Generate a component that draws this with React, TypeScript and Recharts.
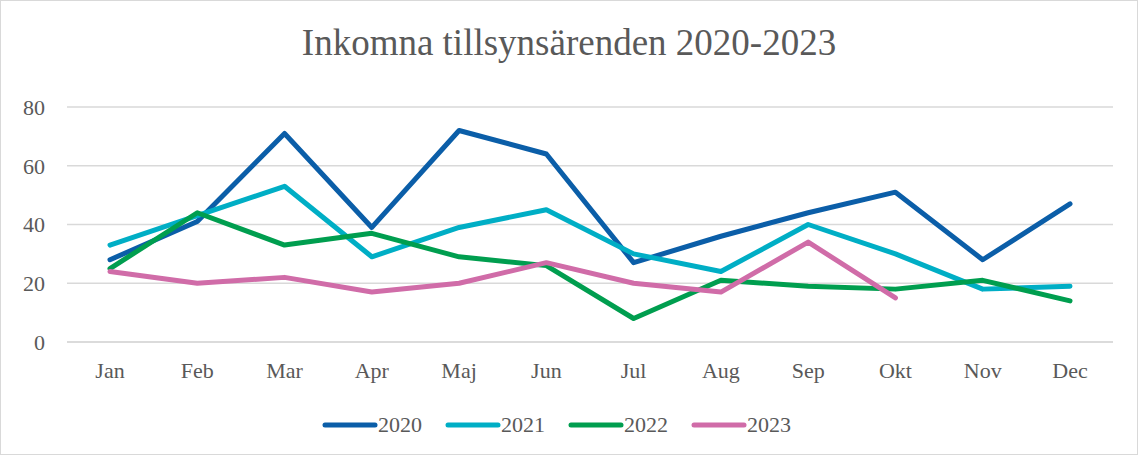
import { CartesianGrid, Line, LineChart, XAxis, YAxis } from "recharts";

const months = ["Jan", "Feb", "Mar", "Apr", "Maj", "Jun", "Jul", "Aug", "Sep", "Okt", "Nov", "Dec"];
const y2020 = [28, 41, 71, 39, 72, 64, 27, 36, 44, 51, 28, 47];
const y2021 = [33, 43, 53, 29, 39, 45, 30, 24, 40, 30, 18, 19];
const y2022 = [25, 44, 33, 37, 29, 26, 8, 21, 19, 18, 21, 14];
const y2023: (number | null)[] = [24, 20, 22, 17, 20, 27, 20, 17, 34, 15, null, null];
const yTicks = [0, 20, 40, 60, 80];

const series = [
  { key: "2020", color: "#0B5EA8" },
  { key: "2021", color: "#00AEC5" },
  { key: "2022", color: "#009E4F" },
  { key: "2023", color: "#D06CA8" },
];

const data = months.map((m, i) => ({
  month: m,
  "2020": y2020[i],
  "2021": y2021[i],
  "2022": y2022[i],
  "2023": y2023[i],
}));

const font = "'Liberation Serif', 'Times New Roman', serif";
const textColor = "#595959";

function LegendRow() {
  return (
    <div
      style={{
        position: "absolute",
        top: 411,
        left: 321,
        display: "flex",
        gap: 23,
        fontFamily: font,
        fontSize: 22,
        color: textColor,
        lineHeight: "26px",
      }}
    >
      {series.map((s) => (
        <div key={s.key} style={{ display: "flex", alignItems: "center" }}>
          <svg width={56} height={8}>
            <line x1={3} y1={4} x2={53} y2={4} stroke={s.color} strokeWidth={5} strokeLinecap="round" />
          </svg>
          <span>{s.key}</span>
        </div>
      ))}
    </div>
  );
}

export default function App() {
  return (
    <div
      style={{
        position: "absolute",
        left: 0,
        top: 0,
        width: 1136,
        height: 453,
        border: "1px solid #d9d9d9",
        background: "#fff",
      }}
    >
      <div
        style={{
          position: "absolute",
          top: 20,
          width: "100%",
          textAlign: "center",
          fontFamily: font,
          fontSize: 37,
          color: textColor,
        }}
      >
        Inkomna tillsynsärenden 2020-2023
      </div>
      <LineChart width={1136} height={453} data={data} margin={{ top: 106, right: 24, left: 0, bottom: 82 }}>
        <CartesianGrid vertical={false} stroke="#d9d9d9" strokeWidth={1.5} />
        <XAxis
          dataKey="month"
          height={30}
          padding={{ left: 43, right: 43 }}
          axisLine={{ stroke: "#d9d9d9", strokeWidth: 1.5 }}
          tickLine={false}
          tickMargin={14}
          tick={{ fontFamily: font, fontSize: 22, fill: textColor }}
          interval={0}
        />
        <YAxis
          width={66}
          domain={[0, 80]}
          ticks={yTicks}
          axisLine={false}
          tickLine={false}
          tickMargin={16}
          tick={{ fontFamily: font, fontSize: 22, fill: textColor }}
        />
        {series.map((s) => (
          <Line
            key={s.key}
            type="linear"
            dataKey={s.key}
            stroke={s.color}
            strokeWidth={5}
            dot={false}
            activeDot={false}
            strokeLinecap="round"
            strokeLinejoin="round"
            isAnimationActive={false}
          />
        ))}
      </LineChart>
      <LegendRow />
    </div>
  );
}
